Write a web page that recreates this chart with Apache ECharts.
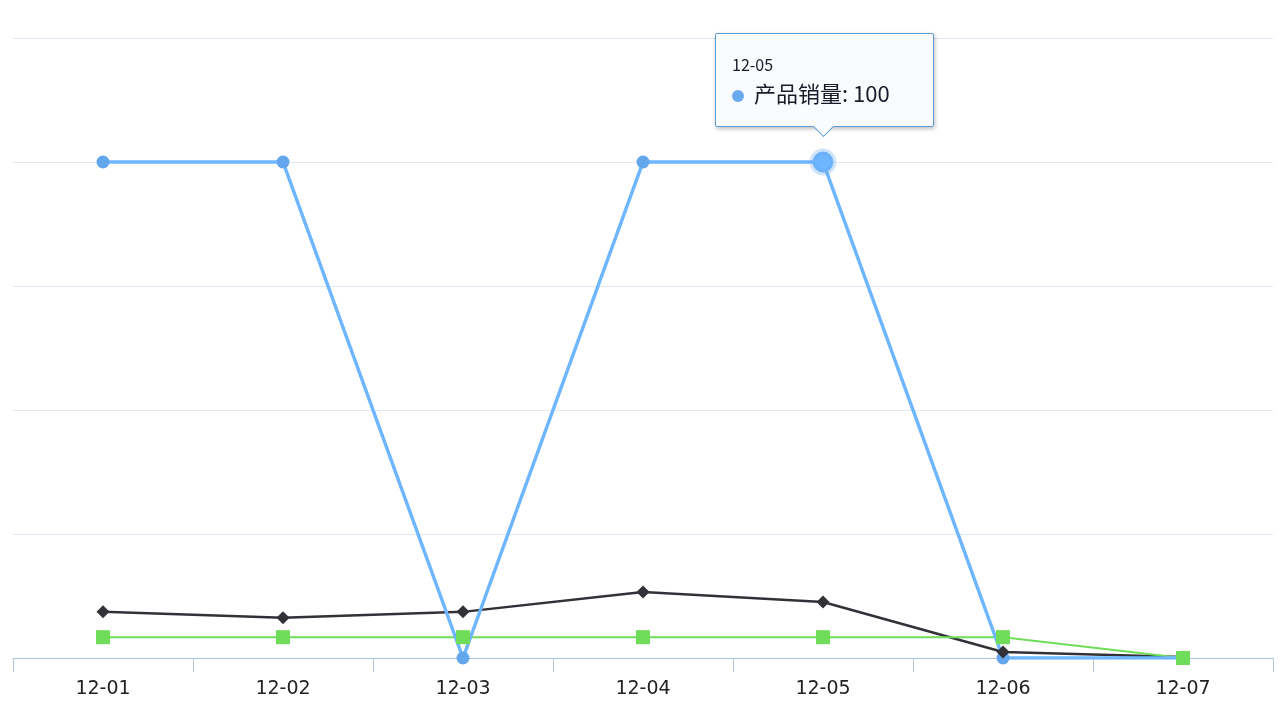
<!DOCTYPE html>
<html>
<head>
	<meta charset="utf-8">
	<title>产品销量</title>
	<script src="https://cdn.jsdelivr.net/npm/echarts@6/dist/echarts.min.js"></script>
	<style>body{margin:0;background:#fff}</style>
</head>
<body>
	<div id="main" style="width:1280px;height:720px"></div>
	<script type="text/javascript">
		var days = ['12-01', '12-02', '12-03', '12-04', '12-05', '12-06', '12-07'];
		var sales = [100, 100, 0, 100, 100, 0, 0];       // 产品销量
		var blackVals = [9.3, 8.1, 9.3, 13.3, 11.3, 1.2, 0.2];
		var greenVals = [4.2, 4.2, 4.2, 4.2, 4.2, 4.2, 0];

		var myChart = echarts.init(document.getElementById('main'));
		var option = {
			animation: false,
			grid: {left: 13, right: 7, top: 38, bottom: 62},
			tooltip: {
				trigger: 'item',
				backgroundColor: 'rgba(250,251,253,0.97)',
				borderColor: '#5b9bd5',
				borderWidth: 1.5,
				padding: [18, 16, 18, 16],
				extraCssText: 'box-shadow:1px 2px 4px rgba(0,0,0,0.25);border-radius:2px;width:185px;',
				position: function (point, params, dom, rect, size) {
					return [rect.x + rect.width / 2 - 108, rect.y - 123];
				},
				formatter: function (p) {
					return '<div style="position:relative;font-family:Noto Sans CJK SC;color:#1a1a2a">'
						+ '<div style="font-size:16px;line-height:24px">' + p.name + '</div>'
						+ '<div style="font-size:22px;line-height:32px"><span style="display:inline-block;width:12px;height:12px;border-radius:6px;background:#6aaaf0;margin-right:10px;vertical-align:middle"></span>'
						+ p.seriesName + ': ' + p.value + '</div>'
						+ '<div style="position:absolute;left:84px;bottom:-26px;width:14px;height:14px;background:rgba(250,251,253,1);border-right:1.5px solid #5b9bd5;border-bottom:1.5px solid #5b9bd5;transform:rotate(45deg)"></div>'
						+ '</div>';
				}
			},
			xAxis: {
				type: 'category',
				data: days,
				boundaryGap: true,
				axisLine: {lineStyle: {color: '#a9c1e0'}},
				axisTick: {show: true, length: 14, lineStyle: {color: '#b6c6da'}},
				axisLabel: {fontSize: 19, color: '#222', margin: 22, fontFamily: 'DejaVu Sans'}
			},
			yAxis: {
				type: 'value',
				min: 0, max: 125, interval: 25,
				axisLabel: {show: false},
				axisLine: {show: false},
				axisTick: {show: false},
				splitLine: {lineStyle: {color: '#e0e8f2'}}
			},
			series: [
				{
					name: '产品销量',
					type: 'line',
					data: sales,
					symbol: 'circle',
					symbolSize: 13,
					color: '#64a6ec',
					lineStyle: {width: 3.5},
					emphasis: {scale: 1.6, itemStyle: {borderColor: 'rgba(100,166,236,0.3)', borderWidth: 6}}
				},
				{
					name: '系列二',
					type: 'line',
					data: blackVals,
					symbol: 'diamond',
					symbolSize: 13,
					color: '#333038',
					lineStyle: {width: 2.5},
					tooltip: {show: false}
				},
				{
					name: '系列三',
					type: 'line',
					data: greenVals,
					symbol: 'rect',
					symbolSize: 14,
					color: '#6fdc5a',
					lineStyle: {width: 2},
					tooltip: {show: false}
				}
			]
		};
		myChart.setOption(option);
		myChart.dispatchAction({type: 'highlight', seriesIndex: 0, dataIndex: 4});
		myChart.dispatchAction({type: 'showTip', seriesIndex: 0, dataIndex: 4});
	</script>
</body>
</html>
